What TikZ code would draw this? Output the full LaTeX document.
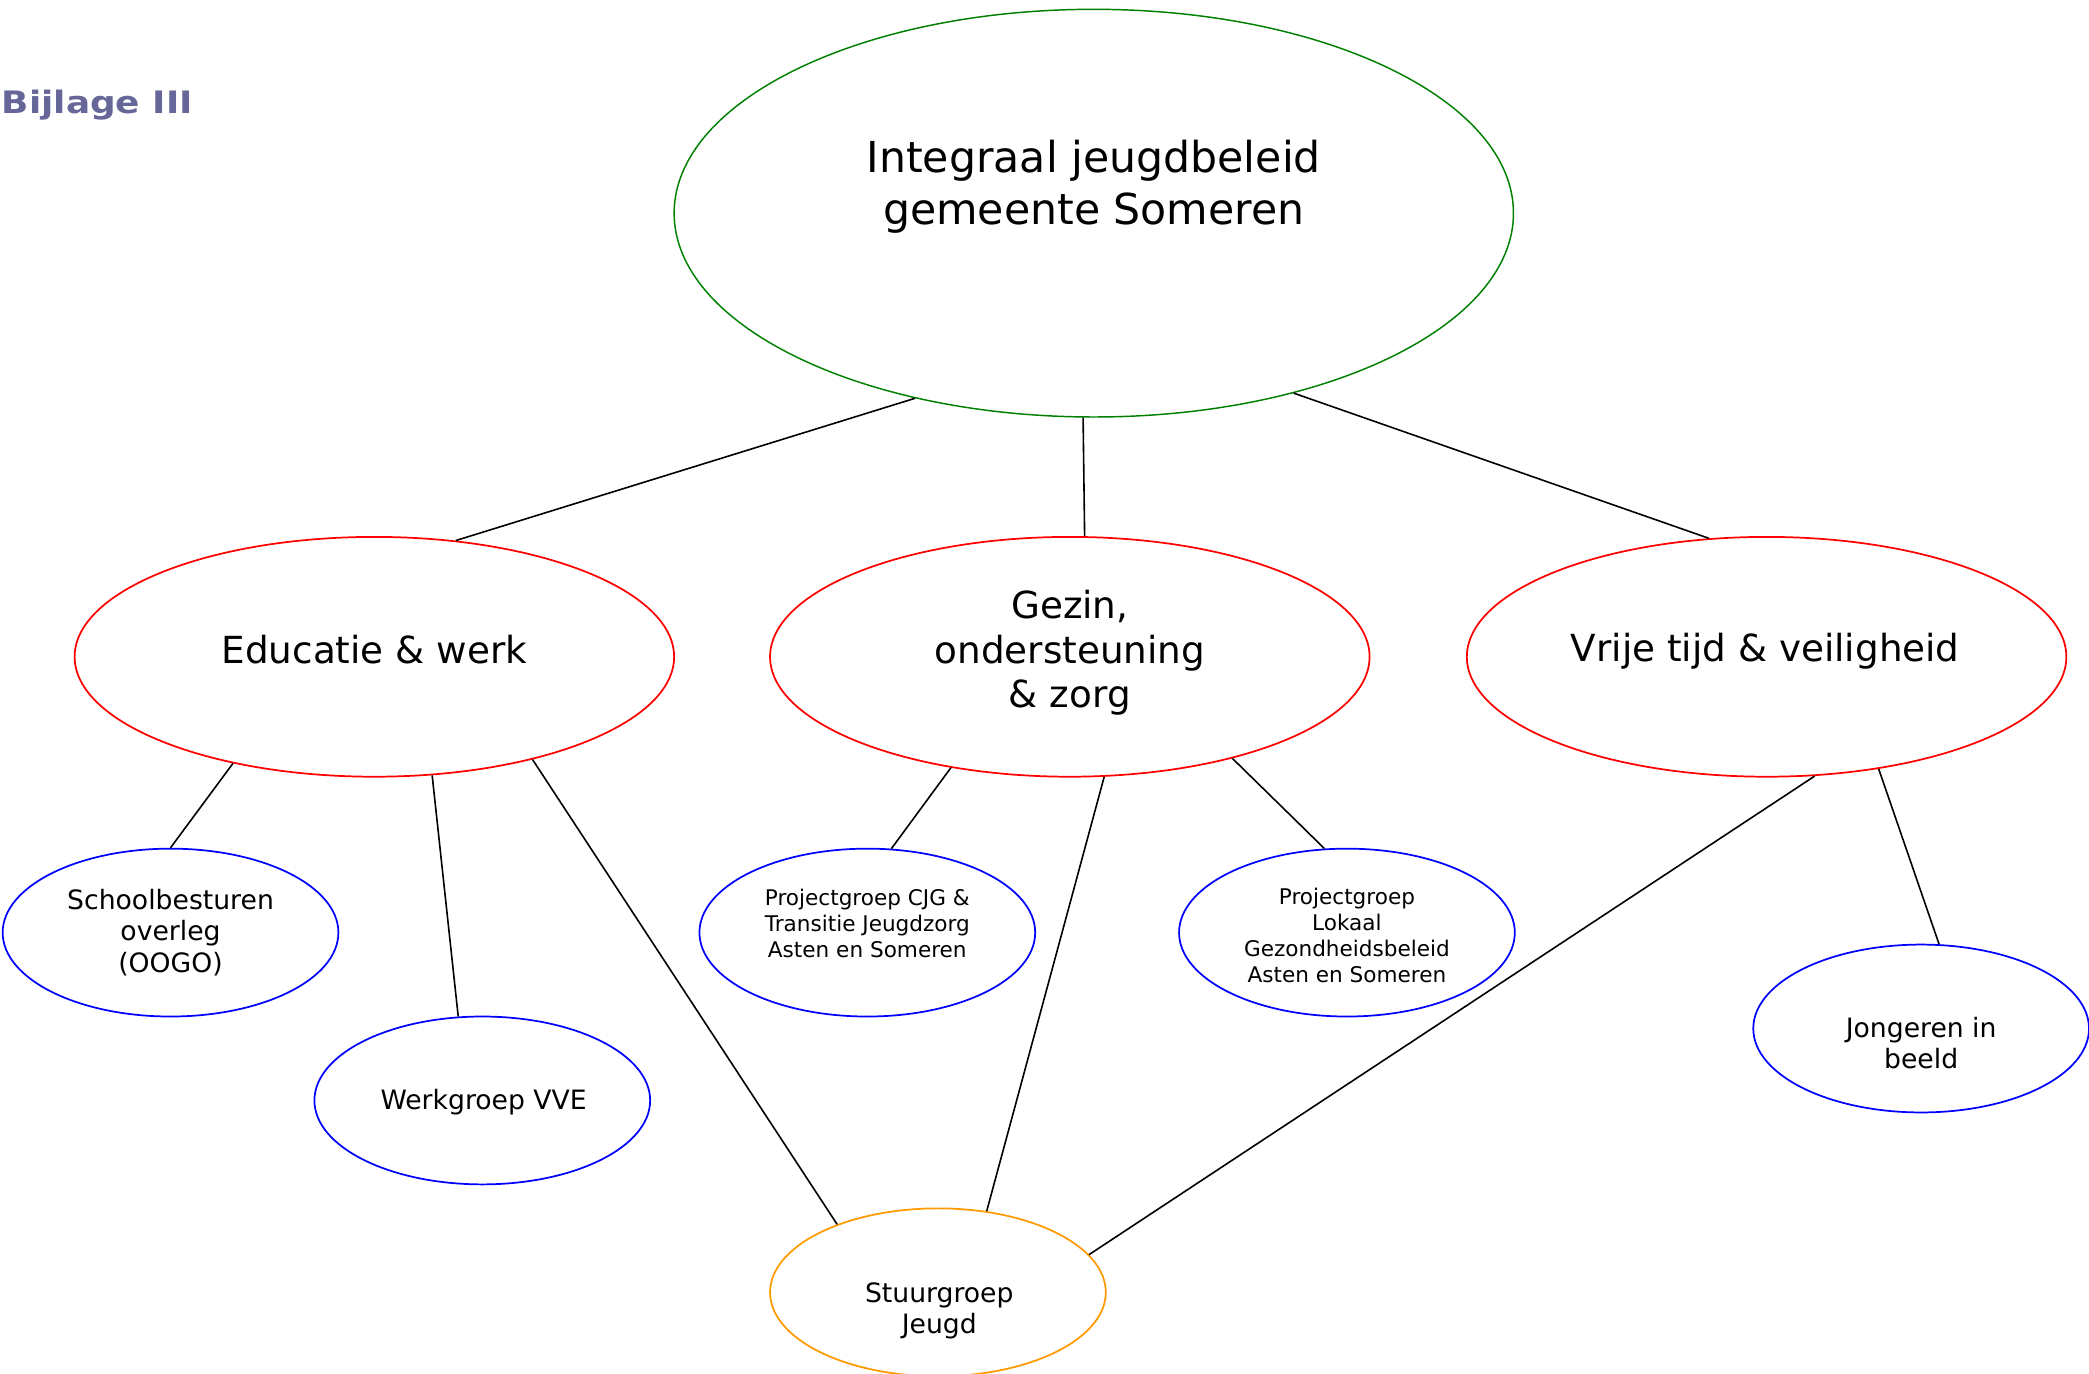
\documentclass[tikz,border=0pt]{standalone}
\usepackage{fontspec}
\setmainfont{DejaVu Sans}
\newfontfamily\bijfont[FakeStretch=1.16]{DejaVu Sans}
\usetikzlibrary{shapes.geometric}
\definecolor{bijcol}{RGB}{102,102,153}
\definecolor{orangeb}{RGB}{255,153,0}
\definecolor{greenb}{RGB}{0,128,0}
\tikzset{
  oval/.style={ellipse, draw, line width=0.65pt, inner sep=0pt},
  bigoval/.style={oval, draw=greenb, line width=0.55pt, minimum width=315pt, minimum height=153pt},
  redoval/.style={oval, draw=red, minimum width=225pt, minimum height=90pt},
  blueoval/.style={oval, draw=blue, minimum width=126pt, minimum height=63pt},
  orangeoval/.style={oval, draw=orangeb, minimum width=126pt, minimum height=63pt},
  lbl/.style={align=center, inner sep=0pt},
  bigtxt/.style={lbl, font=\fontsize{16}{19.5}\selectfont},
  redtxt/.style={lbl, font=\fontsize{14}{16.75}\selectfont},
  bluetxt/.style={lbl, font=\fontsize{10}{11.8}\selectfont},
  smalltxt/.style={lbl, font=\fontsize{8.1}{9.7}\selectfont},
  link/.style={draw=black, line width=0.6pt},
}
\begin{document}
\begin{tikzpicture}[x=0.5pt,y=-0.5pt]
\useasboundingbox (0,0) rectangle (1568,1031);

% title
\node[anchor=base west, inner sep=0pt, text=bijcol, font=\bijfont\bfseries\fontsize{11.6}{14}\selectfont] (bijlage) at (1,85) {Bijlage III};

% ellipses
\node[bigoval] (top) at (821,160) {};
\node[redoval] (edu) at (281,493) {};
\node[redoval] (gezin) at (803,493) {};
\node[redoval] (vrije) at (1326,493) {};
\node[blueoval] (school) at (128,700) {};
\node[blueoval] (vve) at (362,826) {};
\node[blueoval] (cjg) at (651,700) {};
\node[blueoval] (lokaal) at (1011,700) {};
\node[blueoval] (jong) at (1442,772) {};
\node[orangeoval] (stuur) at (704,970) {};

% texts
\node[bigtxt] (topt) at (821,140) {Integraal jeugdbeleid\\gemeente Someren};
\node[redtxt] (edut) at (281,487.5) {Educatie \& werk};
\node[redtxt] (gezint) at (803,490) {Gezin,\\ondersteuning\\\& zorg};
\node[redtxt] (vrijet) at (1325,489) {Vrije tijd \& veiligheid};
\node[bluetxt] (schoolt) at (128,700) {Schoolbesturen\\overleg\\(OOGO)};
\node[bluetxt] (vvet) at (363,827) {Werkgroep VVE};
\node[smalltxt] (cjgt) at (651,693) {Projectgroep CJG \&\\Transitie Jeugdzorg\\Asten en Someren};
\node[smalltxt] (lokaalt) at (1011,702) {Projectgroep\\Lokaal\\Gezondheidsbeleid\\Asten en Someren};
\node[bluetxt] (jongt) at (1442,783) {Jongeren in\\beeld};
\node[bluetxt] (stuurt) at (705,984) {Stuurgroep\\Jeugd};

% connectors
\draw[link] (top.226.7) -- (edu.55);
\draw[link] (top.267) -- (gezin.83.7);
\draw[link] (top.318.6) -- (vrije.116.1);
\draw[link] (edu.217.3) -- (school.90);
\draw[link] (edu.296.8) -- (vve.106.2);
\draw[link] (edu.327.7) -- (stuur.146.3);
\draw[link] (gezin.223) -- (cjg.74.9);
\draw[link] (gezin.286.9) -- (stuur.59.9);
\draw[link] (gezin.328.1) -- (lokaal.105.9);
\draw[link] (vrije.292) -- (stuur.14.4);
\draw[link] (vrije.315.3) -- (jong.78.3);
\end{tikzpicture}
\end{document}
